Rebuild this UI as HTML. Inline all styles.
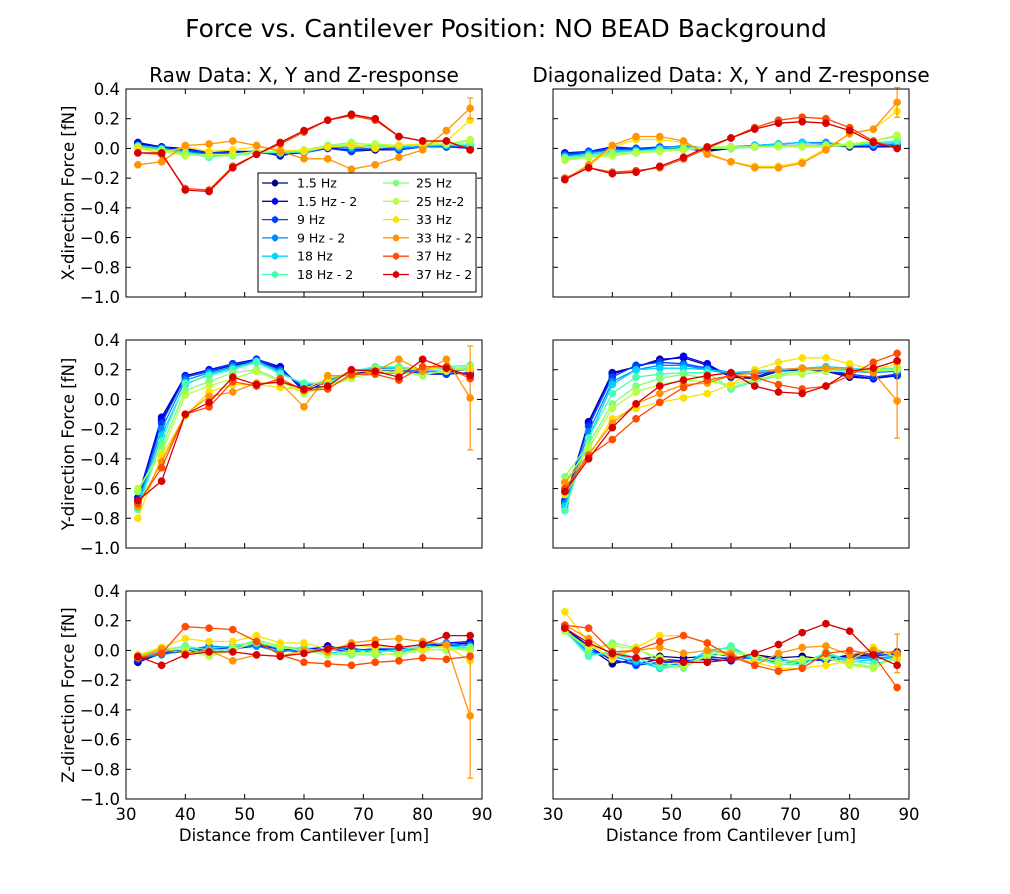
<!DOCTYPE html>
<html><head><meta charset="utf-8"><style>
body{margin:0;background:#fff;}
svg text{font-family:"DejaVu Sans","Liberation Sans",sans-serif;fill:#000;}
</style></head><body>
<svg id="fig" width="1010" height="889" xmlns="http://www.w3.org/2000/svg">
<rect width="1010" height="889" fill="#fff"/>
<text x="506" y="37" font-size="25" text-anchor="middle">Force vs. Cantilever Position: NO BEAD Background</text>
<text x="304" y="82" font-size="20" text-anchor="middle">Raw Data: X, Y and Z-response</text>
<text x="731" y="82" font-size="20" text-anchor="middle">Diagonalized Data: X, Y and Z-response</text>
</svg>
<script>
const xs=[32,36,40,44,48,52,56,60,64,68,72,76,80,84,88];
const seriesNames=["1.5 Hz","1.5 Hz - 2","9 Hz","9 Hz - 2","18 Hz","18 Hz - 2","25 Hz","25 Hz-2","33 Hz","33 Hz - 2","37 Hz","37 Hz - 2"];
const colors=["#00007f","#0000f0","#0040ff","#0088ff","#00d4ff","#46ffb0","#7dff7a","#b6ff41","#ffe000","#ff9400","#ff4a00","#d80000"];
const yTicks=[0.4,0.2,0.0,-0.2,-0.4,-0.6,-0.8,-1.0];
const xTicks=[30,40,50,60,70,80,90];
const rawX=[
[0.03,0.01,-0.01,-0.04,-0.03,-0.02,-0.05,-0.02,0.01,-0.02,-0.01,-0.01,0.01,0.02,0.0],
[0.04,0.01,0.0,-0.03,-0.02,-0.02,-0.04,-0.03,0.0,-0.01,0.0,0.0,0.01,0.01,0.0],
[0.02,0.0,-0.01,-0.03,-0.03,-0.03,-0.04,-0.02,0.0,-0.02,0.0,-0.01,0.01,0.01,0.01],
[0.01,0.0,-0.02,-0.04,-0.04,-0.03,-0.03,-0.02,0.01,0.0,0.01,0.0,0.01,0.02,0.01],
[0.02,0.0,-0.03,-0.05,-0.04,-0.03,-0.02,-0.03,0.01,0.01,0.02,0.01,0.02,0.02,0.02],
[0.01,-0.01,-0.03,-0.06,-0.04,-0.02,-0.03,-0.02,0.02,0.02,0.01,0.02,0.02,0.03,0.03],
[0.0,-0.01,-0.04,-0.05,-0.05,-0.03,-0.02,-0.01,0.02,0.04,0.02,0.02,0.03,0.03,0.05],
[0.01,-0.02,-0.05,-0.04,-0.04,-0.02,-0.02,-0.01,0.01,0.03,0.03,0.02,0.03,0.03,0.06],
[0.0,-0.03,0.01,-0.02,-0.01,0.01,-0.01,-0.02,0.01,0.02,0.0,0.02,0.03,0.05,0.19],
[-0.11,-0.09,0.02,0.03,0.05,0.02,-0.02,-0.07,-0.07,-0.14,-0.11,-0.06,-0.01,0.12,0.27],
[-0.03,-0.04,-0.27,-0.28,-0.12,-0.04,0.03,0.11,0.19,0.22,0.19,0.08,0.05,0.05,-0.01],
[-0.03,-0.03,-0.28,-0.29,-0.13,-0.04,0.04,0.12,0.19,0.23,0.2,0.08,0.05,0.05,-0.01]];
const diagX=[
[-0.04,-0.03,0.0,-0.01,0.0,0.0,-0.02,0.0,0.01,0.02,0.02,0.02,0.01,0.01,0.01],
[-0.03,-0.02,0.01,0.0,0.0,0.01,-0.01,0.0,0.02,0.02,0.02,0.02,0.02,0.01,0.02],
[-0.04,-0.02,0.0,0.0,0.01,0.01,0.0,0.01,0.02,0.03,0.04,0.03,0.02,0.02,0.02],
[-0.05,-0.03,-0.01,-0.01,0.0,0.02,0.0,0.01,0.02,0.03,0.04,0.04,0.02,0.02,0.03],
[-0.06,-0.04,-0.02,-0.02,0.0,0.01,0.0,0.0,0.02,0.03,0.04,0.03,0.02,0.03,0.04],
[-0.06,-0.05,-0.03,-0.02,-0.01,0.0,0.01,0.0,0.01,0.02,0.02,0.02,0.02,0.04,0.05],
[-0.07,-0.06,-0.04,-0.03,-0.02,-0.01,0.0,0.0,0.01,0.02,0.01,0.01,0.02,0.05,0.08],
[-0.08,-0.06,-0.05,-0.03,-0.02,-0.01,0.01,0.01,0.01,0.01,0.01,0.02,0.03,0.05,0.09],
[-0.21,-0.12,0.01,0.06,0.06,0.04,-0.03,-0.09,-0.12,-0.12,-0.09,0.0,0.1,0.13,0.25],
[-0.21,-0.11,0.02,0.08,0.08,0.05,-0.04,-0.09,-0.13,-0.13,-0.1,-0.01,0.1,0.13,0.31],
[-0.2,-0.13,-0.16,-0.15,-0.13,-0.07,0.0,0.07,0.14,0.19,0.21,0.2,0.14,0.05,0.0],
[-0.21,-0.13,-0.17,-0.16,-0.12,-0.06,0.01,0.07,0.13,0.17,0.18,0.17,0.12,0.04,0.0]];
const rawY=[
[-0.68,-0.14,0.15,0.19,0.23,0.26,0.21,0.07,0.13,0.18,0.18,0.18,0.17,0.19,0.17],
[-0.66,-0.12,0.16,0.2,0.24,0.27,0.22,0.05,0.12,0.19,0.17,0.19,0.17,0.17,0.18],
[-0.68,-0.16,0.15,0.19,0.24,0.26,0.2,0.08,0.13,0.18,0.2,0.19,0.18,0.17,0.18],
[-0.7,-0.2,0.13,0.18,0.22,0.25,0.19,0.09,0.13,0.18,0.21,0.2,0.19,0.19,0.2],
[-0.72,-0.24,0.1,0.17,0.21,0.26,0.18,0.1,0.12,0.18,0.22,0.21,0.2,0.21,0.21],
[-0.74,-0.28,0.11,0.16,0.2,0.25,0.17,0.11,0.11,0.19,0.22,0.22,0.2,0.22,0.23],
[-0.62,-0.32,0.06,0.12,0.18,0.2,0.13,0.04,0.1,0.15,0.17,0.19,0.16,0.2,0.22],
[-0.6,-0.36,0.03,0.09,0.14,0.19,0.12,0.04,0.09,0.14,0.19,0.18,0.17,0.19,0.22],
[-0.8,-0.38,-0.11,0.05,0.1,0.1,0.08,0.07,0.14,0.18,0.2,0.2,0.21,0.2,0.2],
[-0.72,-0.42,-0.1,0.02,0.05,0.11,0.11,-0.05,0.16,0.16,0.19,0.27,0.19,0.27,0.01],
[-0.7,-0.46,-0.1,-0.05,0.12,0.09,0.14,0.06,0.07,0.17,0.17,0.13,0.22,0.22,0.14],
[-0.68,-0.55,-0.1,-0.02,0.15,0.1,0.12,0.07,0.09,0.2,0.19,0.15,0.27,0.21,0.16]];
const diagY=[
[-0.7,-0.15,0.18,0.22,0.27,0.28,0.23,0.15,0.14,0.19,0.2,0.19,0.15,0.14,0.17],
[-0.68,-0.16,0.17,0.22,0.26,0.29,0.24,0.15,0.15,0.2,0.2,0.2,0.16,0.14,0.16],
[-0.68,-0.18,0.15,0.23,0.25,0.24,0.21,0.18,0.17,0.2,0.21,0.2,0.17,0.15,0.17],
[-0.7,-0.22,0.12,0.2,0.23,0.23,0.2,0.17,0.18,0.19,0.21,0.21,0.19,0.18,0.19],
[-0.72,-0.26,0.1,0.2,0.21,0.21,0.2,0.18,0.19,0.2,0.21,0.22,0.21,0.2,0.21],
[-0.75,-0.26,0.04,0.15,0.17,0.18,0.18,0.07,0.12,0.16,0.2,0.2,0.2,0.21,0.21],
[-0.52,-0.3,-0.03,0.09,0.14,0.17,0.14,0.08,0.13,0.17,0.19,0.21,0.2,0.2,0.2],
[-0.55,-0.33,-0.06,0.05,0.1,0.13,0.12,0.1,0.14,0.16,0.17,0.19,0.19,0.19,0.2],
[-0.64,-0.38,-0.13,-0.06,-0.02,0.01,0.04,0.1,0.2,0.25,0.28,0.28,0.24,0.2,0.24],
[-0.56,-0.37,-0.16,-0.03,0.04,0.1,0.11,0.16,0.18,0.2,0.21,0.21,0.2,0.18,-0.01],
[-0.6,-0.38,-0.27,-0.13,-0.02,0.08,0.13,0.16,0.15,0.1,0.07,0.09,0.16,0.25,0.31],
[-0.62,-0.4,-0.19,-0.03,0.09,0.13,0.16,0.18,0.09,0.05,0.04,0.09,0.19,0.21,0.26]];
const rawZ=[
[-0.08,-0.02,-0.01,0.0,0.01,0.03,0.01,0.0,0.03,0.0,0.01,-0.01,0.02,0.04,0.05],
[-0.07,-0.01,0.0,0.01,0.02,0.04,0.02,0.01,0.02,0.01,0.0,0.0,0.03,0.05,0.06],
[-0.06,-0.02,0.01,0.02,0.0,0.05,0.0,-0.01,0.01,-0.01,0.01,0.01,0.02,0.03,0.04],
[-0.05,-0.03,0.0,0.03,0.02,0.03,-0.01,0.01,0.0,0.02,-0.02,0.02,0.04,0.05,0.03],
[-0.04,-0.01,0.01,0.01,0.03,0.06,0.01,0.02,-0.02,0.0,0.0,-0.01,0.02,0.03,0.02],
[-0.03,0.0,0.03,0.0,0.01,0.05,0.02,0.0,-0.03,-0.02,-0.01,0.0,0.03,0.02,0.01],
[-0.04,0.01,0.02,-0.03,0.02,0.07,0.03,0.01,-0.02,-0.03,-0.03,-0.02,0.01,0.0,0.02],
[-0.05,0.02,0.0,-0.04,0.0,0.06,0.02,0.0,-0.03,-0.01,-0.02,-0.03,0.0,0.01,0.0],
[-0.03,0.02,0.08,0.06,0.06,0.1,0.05,0.05,0.01,0.04,0.02,0.03,0.01,0.03,-0.07],
[-0.05,0.01,-0.02,0.0,-0.07,-0.03,-0.04,0.0,-0.01,0.05,0.07,0.08,0.06,0.04,-0.44],
[-0.05,-0.02,0.16,0.15,0.14,0.06,-0.03,-0.08,-0.09,-0.1,-0.08,-0.07,-0.05,-0.06,-0.04],
[-0.04,-0.1,-0.03,-0.01,-0.01,-0.03,-0.04,-0.02,0.01,0.03,0.04,0.02,0.04,0.1,0.1]];
const diagZ=[
[0.14,0.02,-0.09,-0.06,-0.04,-0.05,-0.04,-0.06,-0.03,-0.05,-0.04,-0.06,-0.03,-0.02,-0.01],
[0.15,0.03,-0.07,-0.09,-0.06,-0.07,-0.06,-0.07,-0.04,-0.06,-0.08,-0.05,-0.04,-0.03,-0.03],
[0.14,0.01,-0.06,-0.1,-0.08,-0.08,-0.05,-0.05,-0.05,-0.08,-0.06,-0.07,-0.05,-0.04,-0.02],
[0.13,-0.01,-0.04,-0.08,-0.1,-0.09,-0.02,-0.04,-0.06,-0.07,-0.09,-0.03,-0.06,-0.05,-0.04],
[0.14,-0.03,-0.02,-0.07,-0.12,-0.1,0.0,0.02,-0.07,-0.06,-0.08,-0.02,-0.08,-0.06,-0.05],
[0.13,-0.04,0.0,-0.05,-0.11,-0.11,-0.02,0.03,-0.06,-0.09,-0.1,-0.01,-0.07,-0.09,-0.06],
[0.14,0.0,0.05,0.02,-0.08,-0.12,-0.03,0.0,-0.04,-0.1,-0.07,-0.04,-0.09,-0.11,-0.05],
[0.13,0.02,0.03,0.01,-0.05,-0.1,-0.04,-0.02,-0.03,-0.08,-0.06,-0.05,-0.1,-0.12,-0.04],
[0.26,0.05,-0.06,0.02,0.1,0.1,0.05,-0.05,-0.08,-0.12,-0.12,-0.1,-0.07,0.02,-0.05],
[0.17,0.08,-0.03,0.0,0.02,-0.02,0.0,-0.02,-0.1,-0.02,0.02,0.03,-0.03,0.0,-0.02],
[0.17,0.15,-0.01,0.0,0.06,0.1,0.05,-0.04,-0.1,-0.14,-0.12,-0.02,0.0,-0.03,-0.25],
[0.15,0.05,-0.02,-0.05,-0.07,-0.08,-0.08,-0.06,-0.02,0.04,0.12,0.18,0.13,-0.03,-0.1]];
const bigErr=[0.07,0.1,0.35,0.25,0.42,0.13];

const NS="http://www.w3.org/2000/svg";
const svg=document.getElementById('fig');
function mk(tag,attrs,parent){const e=document.createElementNS(NS,tag);for(const k in attrs)e.setAttribute(k,attrs[k]);(parent||svg).appendChild(e);return e;}
const panels=[
{data:rawX,x0:126,y0:89,ylab:"X-direction Force [fN]",yt:true,xt:false,name:"raw-x-panel"},
{data:diagX,x0:553,y0:89,ylab:null,yt:false,xt:false,name:"diag-x-panel"},
{data:rawY,x0:126,y0:340,ylab:"Y-direction Force [fN]",yt:true,xt:false,name:"raw-y-panel"},
{data:diagY,x0:553,y0:340,ylab:null,yt:false,xt:false,name:"diag-y-panel"},
{data:rawZ,x0:126,y0:591,ylab:"Z-direction Force [fN]",yt:true,xt:true,name:"raw-z-panel"},
{data:diagZ,x0:553,y0:591,ylab:null,yt:false,xt:true,name:"diag-z-panel"}];
const W=356,H=208;
panels.forEach((p,pi)=>{
  const g=mk('g',{});
  
  
  const sx=v=>p.x0+(v-30)/60*W, sy=v=>p.y0+(0.4-v)/1.4*H;
  p.data.forEach((ser,si)=>{
    const pts=xs.map((x,i)=>sx(x).toFixed(1)+','+sy(ser[i]).toFixed(1)).join(' ');
    const sg=mk('g',{},g);
    
    
    mk('polyline',{points:pts,fill:'none',stroke:colors[si],'stroke-width':1.3},sg);
    xs.forEach((x,i)=>{
      const c=mk('circle',{cx:sx(x),cy:sy(ser[i]),r:3.6,fill:colors[si],stroke:colors[si],'stroke-width':0.5},sg);
      
      
    });
    if(si===9){
      const e=bigErr[pi],v=ser[14],cx=sx(88);
      mk('line',{x1:cx,x2:cx,y1:sy(v+e),y2:sy(v-e),stroke:colors[si],'stroke-width':1.2},sg);
      mk('line',{x1:cx-3,x2:cx+3,y1:sy(v+e),y2:sy(v+e),stroke:colors[si],'stroke-width':1.2},sg);
      mk('line',{x1:cx-3,x2:cx+3,y1:sy(v-e),y2:sy(v-e),stroke:colors[si],'stroke-width':1.2},sg);
    }
  });
  mk('rect',{x:p.x0,y:p.y0,width:W,height:H,fill:'none',stroke:'#000','stroke-width':1},g);
  yTicks.forEach(t=>{
    const y=sy(t);
    mk('line',{x1:p.x0,x2:p.x0+5,y1:y,y2:y,stroke:'#000'},g);
    mk('line',{x1:p.x0+W-5,x2:p.x0+W,y1:y,y2:y,stroke:'#000'},g);
    if(p.yt){const tx=mk('text',{x:p.x0-6,y:y+6,'font-size':16.5,'text-anchor':'end'},g);tx.textContent=(t<0?'\u2212':'')+Math.abs(t).toFixed(1);
      }
  });
  xTicks.forEach(t=>{
    const x=sx(t);
    mk('line',{x1:x,x2:x,y1:p.y0+H-5,y2:p.y0+H,stroke:'#000'},g);
    mk('line',{x1:x,x2:x,y1:p.y0,y2:p.y0+5,stroke:'#000'},g);
    if(p.xt){const tx=mk('text',{x:x,y:p.y0+H+21,'font-size':16.5,'text-anchor':'middle'},g);tx.textContent=t;
      }
  });
  if(p.ylab){const cy=p.y0+H/2;const t=mk('text',{x:74,y:cy,'font-size':16.5,'text-anchor':'middle',transform:`rotate(-90 74 ${cy})`},g);t.textContent=p.ylab;
    }
  if(p.xt){const t=mk('text',{x:p.x0+W/2,y:p.y0+H+42,'font-size':16.5,'text-anchor':'middle'},g);t.textContent="Distance from Cantilever [um]";
    }
});
// legend
const lg=mk('g',{});


mk('rect',{x:258,y:173,width:218,height:119,fill:'#fff',stroke:'#000','stroke-width':1},lg);
seriesNames.forEach((n,i)=>{
  const col=i<6?0:1,row=i%6;
  const lx=col?383:262,tx=col?416:297,y=183+row*18.3;
  const e=mk('g',{},lg);
  
  
  mk('line',{x1:lx,x2:lx+26,y1:y,y2:y,stroke:colors[i],'stroke-width':1.3},e);
  mk('circle',{cx:lx+13,cy:y,r:3.3,fill:colors[i]},e);
  mk('line',{x1:lx+13,x2:lx+13,y1:y-4,y2:y+4,stroke:colors[i],'stroke-width':0.8},e);
  const t=mk('text',{x:tx,y:y+4.5,'font-size':12.5},e);t.textContent=n;
});
</script>
</body></html>
